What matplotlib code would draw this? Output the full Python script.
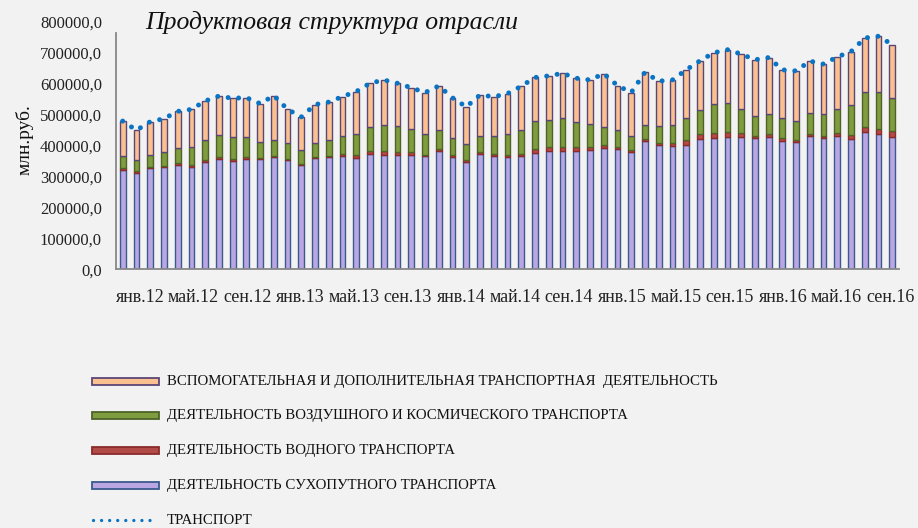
import matplotlib
matplotlib.use("Agg")
import matplotlib.pyplot as plt
from matplotlib.patches import Rectangle
from matplotlib.lines import Line2D
from matplotlib.ticker import FuncFormatter
import numpy as np
import pandas as pd

# Monthly figures, млн.руб., январь 2012 - сентябрь 2016
months = pd.date_range("2012-01-01", "2016-09-01", freq="MS")

land = [321800, 311000, 326000, 330500, 338000, 330500, 345500, 356500, 351000, 356500,
        355200, 363000, 352000, 335700, 358500, 363000, 365000, 360800, 373100, 370500,
        367900, 369500, 365000, 381900, 363000, 347100, 373800, 367300, 363000, 365000,
        377000, 380900, 382900, 380900, 386100, 391600, 389000, 378000, 414700, 401700,
        399400, 403000, 420600, 424100, 427400, 428000, 423200, 428400, 416000, 411800,
        430000, 423200, 430000, 422500, 443600, 437800, 427400]
water = [4200, 5200, 4500, 4200, 5500, 5200, 6500, 6500, 6500, 5900,
         4900, 4200, 4500, 3300, 4500, 4200, 6200, 7200, 8100, 11400,
         10700, 10100, 5500, 5900, 5200, 4500, 5900, 5500, 7500, 8100,
         12400, 13000, 12700, 13000, 8800, 8800, 6500, 6500, 6200, 6500,
         9100, 15300, 15600, 16300, 16300, 13000, 8100, 9800, 7200, 6500,
         8100, 6800, 9800, 13000, 15300, 16600, 17900]
air = [39000, 38000, 40000, 44500, 47500, 59800, 66300, 71800, 70500, 66600,
       52700, 49700, 52000, 45500, 45500, 49700, 57900, 68300, 79300, 84200,
       83900, 72200, 67600, 61400, 57500, 54600, 51400, 58800, 65700, 78000,
       91000, 89400, 93000, 81600, 73100, 58800, 53000, 47800, 46800, 53300,
       58800, 69200, 78000, 92600, 94300, 77400, 65300, 64000, 65300, 60500,
       68300, 73100, 79300, 96500, 115400, 118300, 107900]
aux = [113800, 95200, 106300, 107300, 119300, 121200, 125500, 125100, 124500, 125800,
       122500, 144300, 108200, 107900, 123800, 123500, 129000, 138100, 140700, 145600,
       138500, 134900, 132900, 143300, 128400, 118600, 132300, 125800, 131600, 140400,
       139400, 141700, 144600, 142000, 143700, 172900, 145300, 138800, 168700, 146300,
       144600, 157000, 159300, 166400, 171600, 177100, 180400, 182000, 156000, 162200,
       166400, 159900, 167400, 171600, 173200, 180400, 172600]

tick_labels = ["янв.12", "май.12", "сен.12", "янв.13", "май.13", "сен.13",
               "янв.14", "май.14", "сен.14", "янв.15", "май.15", "сен.15",
               "янв.16", "май.16", "сен.16"]

series_names = ["ДЕЯТЕЛЬНОСТЬ СУХОПУТНОГО ТРАНСПОРТА",
                "ДЕЯТЕЛЬНОСТЬ ВОДНОГО ТРАНСПОРТА",
                "ДЕЯТЕЛЬНОСТЬ ВОЗДУШНОГО И КОСМИЧЕСКОГО ТРАНСПОРТА",
                "ВСПОМОГАТЕЛЬНАЯ И ДОПОЛНИТЕЛЬНАЯ ТРАНСПОРТНАЯ  ДЕЯТЕЛЬНОСТЬ"]
total_name = "ТРАНСПОРТ"
title = "Продуктовая структура отрасли"
y_title = "млн.руб."

faces = ["#bba6e4", "#b24a47", "#7f9c3e", "#fbc08f"]
edges = ["#3a5a8c", "#8a2b2a", "#4f6228", "#5c4676"]
line_color = "#0a74c4"
bg = "#f2f2f2"

plt.rcParams["font.family"] = ["Liberation Serif", "DejaVu Serif"]
plt.rcParams["lines.scale_dashes"] = False

W, H = 918, 528
fig = plt.figure(figsize=(W / 100, H / 100), dpi=100, facecolor=bg)


def fx(px):
    return px / W


def fy(py):
    return 1 - py / H


ax = fig.add_axes([fx(115.8), fy(269.3), fx(899.2) - fx(115.8), fy(21.7) - fy(269.3)])
ax.set_facecolor(bg)

layers = [np.array(v, dtype=float) for v in (land, water, air, aux)]
x = np.arange(len(months))
bottom = np.zeros(len(months))
for vals, fc, ec in zip(layers, faces, edges):
    ax.bar(x, vals, 0.42, bottom=bottom, color=fc, edgecolor=ec, linewidth=1.0, zorder=2)
    bottom += vals

total = bottom.copy()
ax.plot(x, total, color=line_color, lw=3.6, linestyle=(0, (0.01, 7.6)),
        dash_capstyle="round", zorder=3)

ax.set_xlim(-0.5, len(months) - 0.5)
ax.set_ylim(0, 800000)
ax.set_yticks(np.arange(0, 800001, 100000))
ax.yaxis.set_major_formatter(FuncFormatter(lambda v, p: f"{v:.1f}".replace(".", ",")))

# category labels are spread evenly under the plot, one per four months
label_pos = np.linspace(1.26, 55.85, len(tick_labels))
ax.set_xticks(label_pos)
ax.set_xticklabels(tick_labels)
ax.tick_params(axis="y", length=0, pad=10, labelsize=12, colors="#222222")
ax.tick_params(axis="x", length=0, pad=14, labelsize=13, colors="#222222")

for side in ("top", "right"):
    ax.spines[side].set_visible(False)
for side in ("left", "bottom"):
    ax.spines[side].set_color("#888888")
    ax.spines[side].set_linewidth(1.3)
ax.spines["left"].set_bounds(0, 762000)

fig.text(fx(145), fy(22), title, style="italic", fontsize=18.5, ha="left", va="center",
         color="#111111")
fig.text(fx(25), fy(140), y_title, rotation=90, fontsize=14, ha="center", va="center",
         color="#111111")

# legend, drawn top to bottom in reverse stacking order
rows = [381.7, 415.7, 450.7, 485.7]
for yrow, name, fc, ec in zip(rows, series_names[::-1], faces[::-1], edges[::-1]):
    fig.add_artist(Rectangle((fx(92), fy(yrow + 3.3)), fx(159) - fx(92), 6.6 / H,
                             transform=fig.transFigure, facecolor=fc, edgecolor=ec,
                             linewidth=1.3))
    fig.text(fx(167), fy(yrow), name, fontsize=10.7, ha="left", va="center", color="#111111")

fig.add_artist(Line2D([fx(93), fx(157)], [fy(520), fy(520)], transform=fig.transFigure,
                      color=line_color, lw=2.4, linestyle=(0, (0.01, 5.8)),
                      dash_capstyle="round"))
fig.text(fx(167), fy(520), total_name, fontsize=10.7, ha="left", va="center", color="#111111")

fig.savefig("out.png", dpi=100, facecolor=bg)
